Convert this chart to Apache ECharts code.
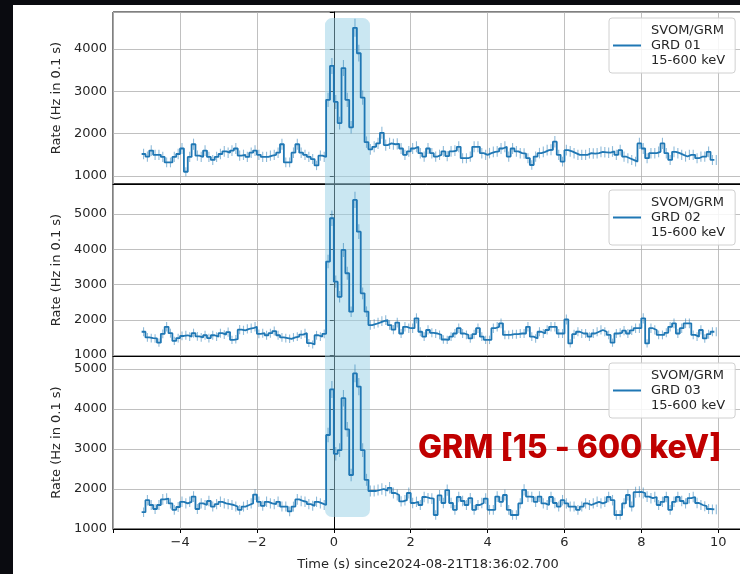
<!DOCTYPE html>
<html><head><meta charset="utf-8">
<script src="https://cdn.jsdelivr.net/npm/echarts@6/dist/echarts.min.js"></script>
<style>html,body{margin:0;padding:0;background:#0a0b10;}#chart{position:absolute;left:0;top:0;width:740px;height:574px;}</style>
</head><body><div id="chart"></div>
<script>
// bin start times (s), 0.1 s bins
const times = [
-5.0,-4.9,-4.8,-4.7,-4.6,-4.5,-4.4,-4.3,-4.2,-4.1,
-4.0,-3.9,-3.8,-3.7,-3.6,-3.5,-3.4,-3.3,-3.2,-3.1,
-3.0,-2.9,-2.8,-2.7,-2.6,-2.5,-2.4,-2.3,-2.2,-2.1,
-2.0,-1.9,-1.8,-1.7,-1.6,-1.5,-1.4,-1.3,-1.2,-1.1,
-1.0,-0.9,-0.8,-0.7,-0.6,-0.5,-0.4,-0.3,-0.2,-0.1,
0.0,0.1,0.2,0.3,0.4,0.5,0.6,0.7,0.8,0.9,
1.0,1.1,1.2,1.3,1.4,1.5,1.6,1.7,1.8,1.9,
2.0,2.1,2.2,2.3,2.4,2.5,2.6,2.7,2.8,2.9,
3.0,3.1,3.2,3.3,3.4,3.5,3.6,3.7,3.8,3.9,
4.0,4.1,4.2,4.3,4.4,4.5,4.6,4.7,4.8,4.9,
5.0,5.1,5.2,5.3,5.4,5.5,5.6,5.7,5.8,5.9,
6.0,6.1,6.2,6.3,6.4,6.5,6.6,6.7,6.8,6.9,
7.0,7.1,7.2,7.3,7.4,7.5,7.6,7.7,7.8,7.9,
8.0,8.1,8.2,8.3,8.4,8.5,8.6,8.7,8.8,8.9,
9.0,9.1,9.2,9.3,9.4,9.5,9.6,9.7,9.8,9.9];

// Rates (Hz in 0.1 s)
const grd01 = [
1520,1460,1600,1500,1500,1450,1320,1320,1450,1520,
1650,1100,1450,1750,1480,1450,1600,1450,1380,1450,
1520,1580,1550,1600,1650,1480,1500,1450,1550,1600,
1500,1450,1450,1480,1500,1550,1750,1320,1320,1550,
1750,1550,1500,1450,1400,1250,1480,1450,
2800,3600,2750,2250,3550,2800,2150,4500,3900,2850,1800,1630,
1690,1770,2020,1730,1770,1750,1760,1650,1500,1580,
1650,1690,1540,1460,1650,1540,1460,1500,1580,1470,
1580,1600,1690,1420,1420,1460,1690,1690,1540,1500,
1540,1570,1580,1650,1690,1460,1650,1580,1540,1530,
1420,1260,1460,1540,1570,1610,1620,1810,1500,1340,
1610,1580,1540,1500,1500,1500,1540,1530,1540,1570,
1560,1550,1580,1500,1610,1460,1420,1380,1340,1770,
1650,1420,1540,1540,1570,1770,1540,1380,1570,1540,
1500,1460,1500,1500,1420,1460,1460,1570,1380,1380];

const grd02 = [
1660,1500,1480,1470,1350,1600,1800,1620,1400,1480,
1540,1560,1520,1620,1530,1500,1560,1480,1560,1520,
1620,1580,1650,1430,1450,1720,1700,1740,1760,1800,
1600,1620,1560,1620,1680,1560,1500,1480,1460,1500,
1520,1580,1620,1340,1300,1560,1520,1600,
3650,4880,3080,2650,3980,3320,2230,5400,4500,2750,2230,1850,
1880,1920,1960,1990,1850,1720,1920,1610,1800,1760,
1760,2040,1660,1520,1710,1630,1610,1570,1440,1430,
1520,1610,1760,1610,1570,1470,1590,1760,1520,1430,
1430,1760,1800,1900,1570,1570,1590,1590,1610,1610,
1800,1520,1470,1660,1610,1710,1800,1800,1610,1610,
2010,1330,1590,1660,1610,1610,1520,1610,1660,1710,
1660,1570,1350,1610,1630,1690,1610,1700,1760,1760,
2040,1330,1760,1710,1570,1570,1630,1800,1900,1610,
1760,1900,1900,1570,1520,1710,1470,1590,1660,1660];

const grd03 = [
1420,1720,1600,1500,1600,1740,1760,1640,1480,1550,
1680,1640,1680,1810,1500,1640,1600,1700,1560,1620,
1680,1640,1620,1600,1560,1480,1560,1600,1640,1860,
1680,1580,1680,1640,1620,1680,1560,1560,1440,1560,
1740,1700,1680,1620,1580,1680,1640,1600,
3350,4490,2880,2970,4270,3490,2350,4890,4560,2970,2230,1950,
1950,1975,2000,1960,2030,1900,1850,1690,1720,1900,
1650,1680,1600,1800,1770,1760,1350,1840,1650,1970,
1650,1480,1800,1700,1600,1770,1480,1600,1650,1760,
1480,1480,1810,1680,1850,1480,1350,1350,1640,1980,
1810,1800,1680,1810,1640,1600,1800,1650,1560,1720,
1640,1560,1560,1480,1560,1640,1600,1640,1680,1640,
1680,1800,1720,1350,1350,1640,1850,1560,1920,1930,
1900,1810,1770,1800,1600,1680,1800,1480,1680,1800,
1700,1640,1770,1800,1650,1600,1570,1500,1490,1490];

const seriesNames = ['SVOM/GRM\nGRD 01\n15-600 keV','SVOM/GRM\nGRD 02\n15-600 keV','SVOM/GRM\nGRD 03\n15-600 keV'];
const xTickLabels = [-4,-2,0,2,4,6,8,10];
const xRange = [-5.745, 10.645];
const yRanges = [[811, 4874],[972, 5851],[1000, 5325]];
const binWidth = 0.1;
// highlighted burst interval (s) and its vertical extent (rate at top of panel 1, bottom of panel 3)
const shadeInterval = [-0.23, 0.94];
const shadeRates = [4730, 1300];
const titleText = 'GRM [15 - 600 keV]';
const xName = 'Time (s) since2024-08-21T18:36:02.700';
const yName = 'Rate (Hz in 0.1 s)';

const panels = [grd01, grd02, grd03];
const FONT = 'DejaVu Sans';
const TXT = '#262626';
const BLUE = '#1f77b4';

const grids = [
  {left:113, top:12, width:630, height:172},
  {left:113, top:184, width:630, height:172},
  {left:113, top:356, width:630, height:173}
].map(g => Object.assign(g, {show:true, borderColor:'#000', borderWidth:1, backgroundColor:'transparent', containLabel:false, outerBoundsMode:'none'}));

const fmtX = v => (xTickLabels.indexOf(v) >= 0 ? (v < 0 ? '\u2212' + Math.abs(v) : String(v)) : '');

const xAxes = panels.map((_, k) => ({
  type:'value', gridIndex:k, min:xRange[0], max:xRange[1],
  minInterval:2, maxInterval:2, splitNumber:8,
  axisLine:{show:true, onZero:false, lineStyle:{color:'#000', width:1}},
  axisTick:{show:k===2, length:4, lineStyle:{color:'#000'}},
  axisLabel:{show:k===2, formatter:fmtX, color:TXT, fontFamily:FONT, fontSize:13, margin:7},
  splitLine:{show:true, lineStyle:{color:'#b0b0b0', width:0.8}},
  name: k===2 ? xName : '', nameLocation:'middle', nameGap:29,
  nameTextStyle:{color:TXT, fontFamily:FONT, fontSize:13}
}));

const yAxes = panels.map((_, k) => ({
  type:'value', gridIndex:k, min:yRanges[k][0], max:yRanges[k][1],
  minInterval:1000, maxInterval:1000, splitNumber:5,
  axisLine:{show:true, lineStyle:{color:'#000', width:1}},
  axisTick:{show:true, length:4, lineStyle:{color:'#000'}},
  axisLabel:{formatter: v => (v % 1000 === 0 ? String(v) : ''), color:TXT, fontFamily:FONT, fontSize:13, margin:6},
  splitLine:{show:true, lineStyle:{color:'#b0b0b0', width:0.8}},
  name:yName, nameLocation:'middle', nameGap:43,
  nameTextStyle:{color:TXT, fontFamily:FONT, fontSize:13}
}));

const series = [];
panels.forEach((vals, k) => {
  const errData = vals.map((v, i) => [times[i] + binWidth/2, v, Math.sqrt(v / binWidth)]);
  series.push({
    type:'custom', xAxisIndex:k, yAxisIndex:k, z:3, silent:true, clip:true,
    data: errData,
    renderItem: (params, api) => {
      const x = api.value(0), v = api.value(1), e = api.value(2);
      const a = api.coord([x, v + e]), b = api.coord([x, v - e]);
      return {type:'line', shape:{x1:a[0], y1:a[1], x2:b[0], y2:b[1]},
              style:{stroke:'rgba(31,119,180,0.5)', lineWidth:1.1}};
    }
  });
  series.push({
    name: seriesNames[k], type:'line', step:'end', xAxisIndex:k, yAxisIndex:k, z:4,
    symbol:'none', showSymbol:false, silent:true,
    lineStyle:{color:BLUE, width:1.8}, itemStyle:{color:BLUE},
    data: vals.map((v, i) => [times[i], v])
  });
});

const legendTops = [18, 190, 363];
const legends = seriesNames.map((n, k) => ({
  data:[n], left:609, top:legendTops[k], orient:'vertical', selectedMode:false,
  icon:'rect', itemWidth:28, itemHeight:2,
  padding:[5,10,5,4], borderColor:'#d0d0d0', borderWidth:1, borderRadius:3,
  backgroundColor:'rgba(255,255,255,0.85)',
  textStyle:{color:TXT, fontFamily:FONT, fontSize:13, lineHeight:15, padding:[0,0,0,5]}
}));

const chart = echarts.init(document.getElementById('chart'), null, {renderer:'canvas'});
chart.setOption({
  animation:false,
  backgroundColor:'#0a0b10',
  grid: grids, xAxis: xAxes, yAxis: yAxes, series: series, legend: legends,
  title:{text:titleText, left:413, top:427,
    textStyle:{color:'#c00000', fontSize:32, fontWeight:800, fontFamily:'Inter, "Noto Sans", sans-serif'}},
  graphic:[{id:'paper', type:'rect', left:13, top:5, shape:{width:727, height:569}, style:{fill:'#ffffff'}, z:-10, silent:true}]
});

const pTop = chart.convertToPixel({gridIndex:0}, [shadeInterval[0], shadeRates[0]]);
const pBot = chart.convertToPixel({gridIndex:2}, [shadeInterval[1], shadeRates[1]]);
chart.setOption({graphic:[
  {id:'paper', type:'rect', left:13, top:5, shape:{width:727, height:569}, style:{fill:'#ffffff'}, z:-10, silent:true},
  {id:'shade', type:'rect', z:1, silent:true,
   shape:{x:pTop[0], y:pTop[1], width:pBot[0]-pTop[0], height:pBot[1]-pTop[1], r:7},
   style:{fill:'rgba(150,208,230,0.5)'}}
]});
</script></body></html>
